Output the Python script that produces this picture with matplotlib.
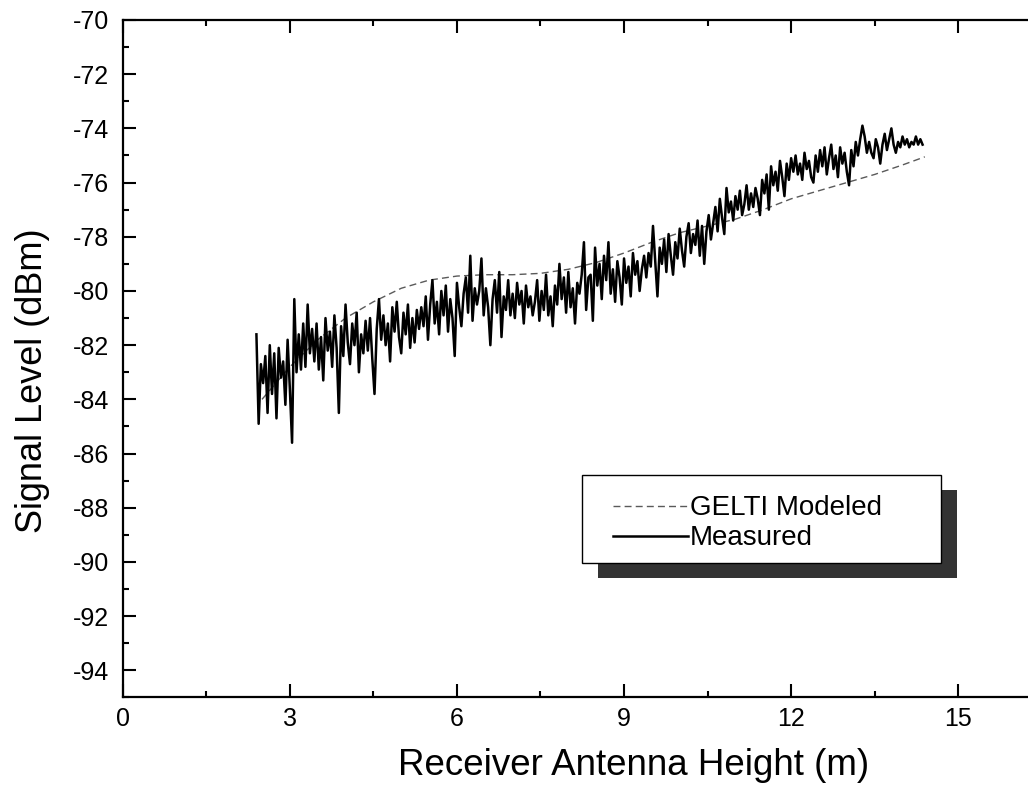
import numpy as np
import matplotlib
matplotlib.use("Agg")
import matplotlib.pyplot as plt
from matplotlib.patches import Rectangle

plt.rcParams['font.family'] = ['Liberation Sans', 'DejaVu Sans']
plt.rcParams['axes.unicode_minus'] = False

# measured signal level, sampled every 0.04 m from 2.40 m
measured_start = 2.40
measured_step = 0.04
measured = [
    # 2.40 - 3.36
    -81.6, -84.9, -82.7, -83.4, -82.4, -84.5, -82.0, -83.8, -82.3, -84.7,
    -82.1, -83.2, -82.6, -84.2, -81.8, -83.6, -85.6, -80.3, -83.0, -81.6,
    -82.9, -81.2, -82.8, -80.5, -82.3,
    # 3.40 - 4.36
    -81.4, -82.6, -81.2, -82.9, -81.7, -83.3, -81.0, -82.2, -81.5, -82.8,
    -80.9, -82.1, -84.5, -81.3, -82.4, -80.5, -81.9, -82.7, -81.2, -82.0,
    -80.8, -83.0, -81.6, -82.3, -81.1,
    # 4.40 - 5.36
    -82.2, -81.0, -82.5, -83.8, -81.4, -80.3, -81.8, -80.9, -82.0, -81.2,
    -82.6, -80.6, -81.5, -80.4, -81.7, -82.3, -80.8, -81.6, -80.5, -82.1,
    -81.0, -81.9, -80.7, -81.4, -80.6,
    # 5.40 - 6.36
    -81.3, -80.2, -81.8, -80.5, -79.6, -81.2, -80.4, -81.6, -80.0, -80.9,
    -79.8, -81.5, -80.3, -81.0, -82.4, -79.7, -80.6, -81.3, -80.1, -79.5,
    -80.8, -78.7, -81.1, -79.9, -80.5,
    # 6.40 - 7.36
    -80.0, -78.8, -80.9, -79.9, -80.6, -82.0, -80.3, -79.6, -80.8, -79.3,
    -81.7, -80.2, -80.7, -79.6, -80.9, -80.1, -81.0, -79.7, -80.5, -80.0,
    -81.2, -79.8, -80.6, -80.2, -80.9,
    # 7.40 - 8.36
    -80.4, -79.6, -81.1, -80.0, -80.7, -79.4, -80.9, -80.2, -81.3, -79.8,
    -80.5, -79.0, -80.3, -79.5, -80.8, -79.3, -80.6, -79.9, -81.2, -79.7,
    -80.1, -79.4, -78.2, -80.7, -79.5,
    # 8.40 - 9.36
    -79.4, -81.1, -78.4, -79.8, -79.0, -80.3, -78.7, -79.6, -78.2, -80.1,
    -79.2, -80.4, -78.9, -79.5, -80.5, -78.8, -79.7, -79.1, -80.2, -78.6,
    -79.4, -78.9, -80.0, -79.2, -78.7,
    # 9.40 - 10.36
    -79.5, -78.6, -79.1, -77.6, -78.9, -80.2, -78.4, -79.0, -78.1, -79.3,
    -77.9, -78.7, -79.4, -78.2, -78.8, -77.7, -78.5, -79.1, -78.0, -77.5,
    -78.6, -77.9, -78.3, -77.4, -78.7,
    # 10.40 - 11.36
    -77.6, -79.0, -77.8, -77.2, -78.1, -77.5, -76.9, -77.8, -76.6, -77.3,
    -77.9, -76.2, -77.1, -76.7, -77.4, -76.5, -77.0, -76.3, -77.2, -76.8,
    -76.1, -77.0, -76.4, -76.9, -76.2,
    # 11.40 - 12.36
    -76.6, -77.2, -75.9, -76.4, -75.7, -77.0, -75.4, -76.1, -75.6, -76.3,
    -75.2, -75.8, -76.5, -75.3, -75.9, -75.1, -75.6, -75.0, -75.7, -75.3,
    -75.9, -74.9, -75.5, -75.2, -75.8,
    # 12.40 - 13.36
    -76.0, -75.0, -75.6, -74.8, -75.4, -74.7, -75.7, -75.1, -74.6, -75.5,
    -75.0, -75.8, -74.7, -75.3, -74.9, -75.6, -76.1, -74.8, -75.4, -74.5,
    -75.0, -74.4, -73.9, -74.3, -74.9,
    # 13.40 - 14.36
    -74.5, -74.9, -75.1, -74.4, -74.7, -75.3, -74.6, -74.2, -74.8, -74.4,
    -74.0, -74.6, -74.9, -74.5, -74.7, -74.3, -74.6, -74.4, -74.7, -74.5,
    -74.6, -74.3, -74.6, -74.4, -74.6,
]

# GELTI model curve
model_h = [2.5, 3.0, 3.5, 4.0, 4.5, 5.0, 5.5, 6.0, 6.5, 7.0, 7.5, 8.0, 8.5,
           9.0, 9.5, 10.0, 10.5, 11.0, 11.5, 12.0, 12.5, 13.0, 13.5, 14.0, 14.4]
model_db = [-84.0, -82.8, -81.8, -81.0, -80.4, -79.9, -79.6, -79.45, -79.4,
            -79.4, -79.35, -79.2, -78.95, -78.6, -78.2, -77.85, -77.6, -77.35,
            -77.0, -76.6, -76.3, -76.0, -75.7, -75.35, -75.05]

meas_h = measured_start + measured_step * np.arange(len(measured))

fig = plt.figure(figsize=(10.28, 7.86), dpi=100)
# plot area runs past the right edge of the page, as in the scanned figure
ax = fig.add_axes([0.1194, 0.1126, 0.894, 0.862])

ax.plot(model_h, model_db, color="#5a5a5a", lw=1.0, linestyle=(0, (5, 3)),
        label="GELTI Modeled", zorder=2)
ax.plot(meas_h, measured, color="black", lw=1.8, label="Measured", zorder=3)

ax.set_xlim(0, 16.5)
ax.set_ylim(-95, -70)
ax.set_xticks([0, 3, 6, 9, 12, 15])
ax.set_xticks(np.arange(1.5, 16.6, 3), minor=True)
ax.set_yticks(np.arange(-94, -69, 2))
ax.set_yticks(np.arange(-95, -69, 1), minor=True)

ax.tick_params(which="both", direction="in", top=True, right=True, width=1.5)
ax.tick_params(which="major", length=9.5, labelsize=18)
ax.tick_params(which="minor", length=4.5)
ax.tick_params(axis="y", pad=10)
ax.tick_params(axis="x", pad=7)
for sp in ax.spines.values():
    sp.set_linewidth(1.6)

ax.set_xlabel("Receiver Antenna Height (m)", fontsize=26.5)
ax.set_ylabel("Signal Level (dBm)", fontsize=26)
ax.xaxis.set_label_coords(0.564 * 905.3 / 919.1, -0.075)
ax.yaxis.set_label_coords(-0.08 * 905.3 / 919.1, 0.467)

# legend box with offset shadow (axes width is now 919.1 px)
aw, ah = 919.1, 677.5
bx, by = (582 - 122.7) / aw, 0.1985
bw, bh = (941 - 582) / aw, 0.13
sx, sy = 16 / aw, -15 / ah
ax.add_patch(Rectangle((bx + sx, by + sy), bw, bh, transform=ax.transAxes,
                       facecolor="#333333", edgecolor="none", zorder=5))
ax.add_patch(Rectangle((bx, by), bw, bh, transform=ax.transAxes,
                       facecolor="white", edgecolor="black", lw=1.0, zorder=6))
leg = ax.legend(loc="center left", bbox_to_anchor=((613 - 122.7) / aw, 0.257),
                frameon=False, fontsize=20, handlelength=2.7,
                handletextpad=0.08, labelspacing=0.15, borderpad=0,
                borderaxespad=0)
leg.set_zorder(7)

fig.savefig("out.png", dpi=100)
